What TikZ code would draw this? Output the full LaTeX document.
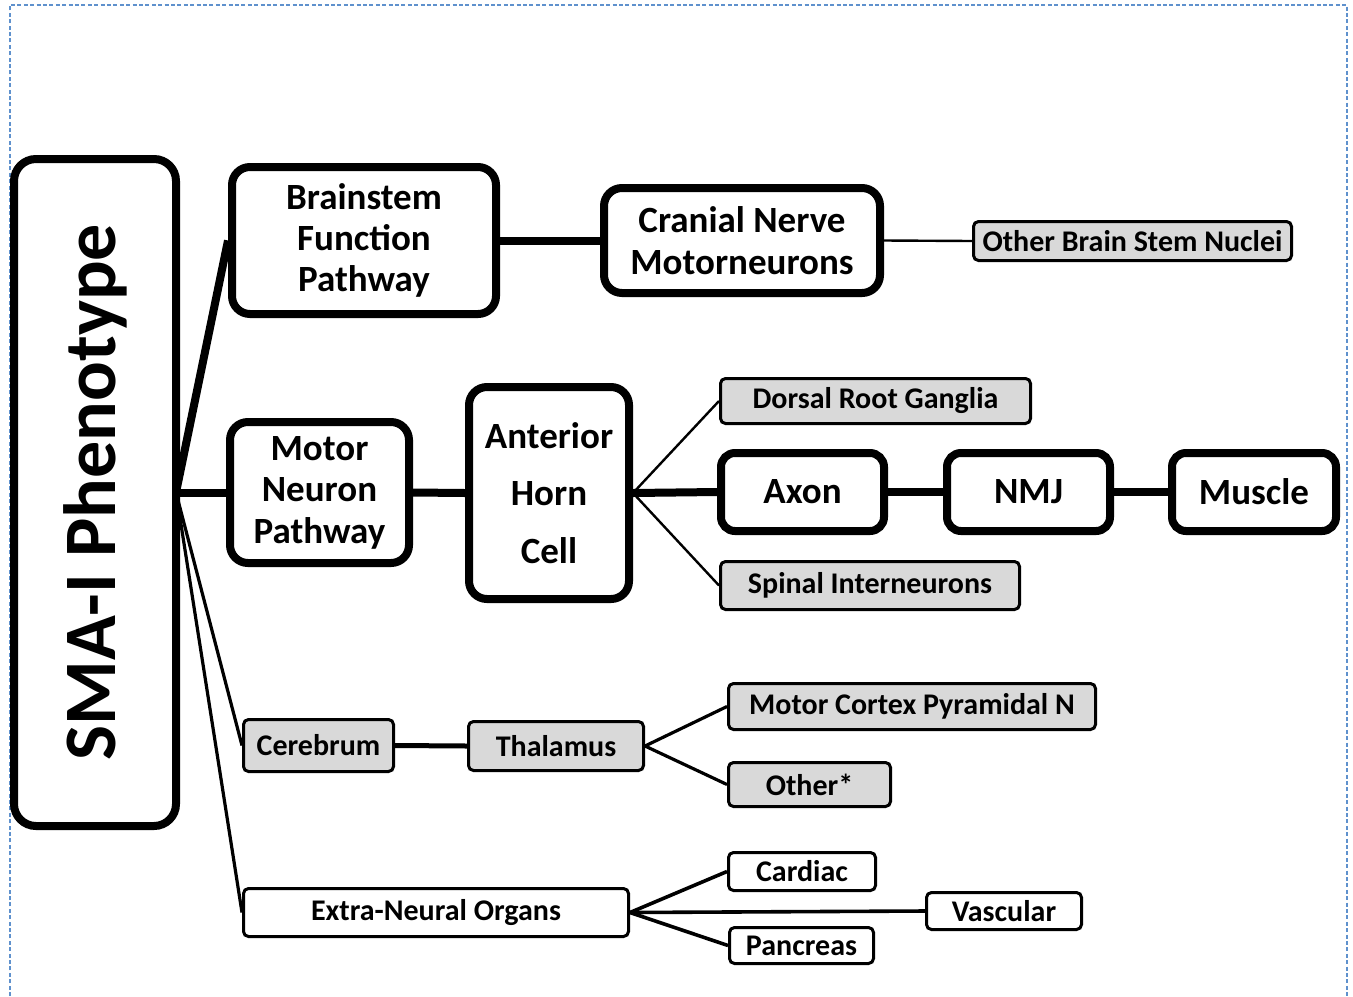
\documentclass[tikz,border=0pt]{standalone}
\usepackage{fontspec}
\setmainfont{Carlito}
\usetikzlibrary{positioning}
\pgfdeclarelayer{background}
\pgfsetlayers{background,main}
\definecolor{boxgray}{RGB}{217,217,217}
\definecolor{dashblue}{RGB}{95,145,205}
\tikzset{
  bigbox/.style={draw=black, line width=4pt, rounded corners=9pt, fill=white, inner sep=0pt, align=center,
    font=\fontsize{18.5}{20.5}\selectfont\bfseries},
  graybox/.style={draw=black, line width=1.5pt, rounded corners=2.5pt, fill=boxgray, inner sep=0pt, align=center,
    font=\fontsize{15}{17}\selectfont\bfseries},
  whitebox/.style={graybox, fill=white},
  thickline/.style={line width=4pt},
  thinline/.style={line width=1.2pt},
  midline/.style={line width=1.6pt},
}
\begin{document}
\begin{tikzpicture}[x=0.5pt,y=-0.5pt]
\useasboundingbox (0,0) rectangle (1353,996);
\draw[dashblue, line width=0.6pt, dash pattern=on 2pt off 1.2pt] (10,996) -- (10,5) -- (1347,5) -- (1347,996);

% main nodes
\node[bigbox, minimum width=81pt, minimum height=333.5pt, rounded corners=11pt] (sma) at (95,492.5) {};
\node[rotate=90, font=\fontsize{37}{40}\selectfont\bfseries] (smatext) at (95,492) {SMA-I Phenotype};

\node[bigbox, minimum width=132pt, minimum height=73.5pt] (brain) at (364,240.5) {Brainstem\\Function\\Pathway};
\node[bigbox, minimum width=138pt, minimum height=52.5pt, font=\fontsize{18.5}{21}\selectfont\bfseries] (cranial) at (742,240.5) {Cranial Nerve\\Motorneurons};
\node[graybox, minimum width=159pt, minimum height=19.5pt] (obsn) at (1132.5,241) {Other Brain Stem Nuclei};

\node[bigbox, minimum width=89.5pt, minimum height=70.5pt, font=\fontsize{18.5}{20.75}\selectfont\bfseries] (mnp) at (319.5,492.5) {Motor\\Neuron\\Pathway};
\node[bigbox, minimum width=80pt, minimum height=106pt, font=\fontsize{18.5}{28.75}\selectfont\bfseries] (ahc) at (549,493) {Anterior\\Horn\\Cell};
\node[graybox, minimum width=155pt, minimum height=22.5pt] (drg) at (875.5,401) {Dorsal Root Ganglia};
\node[graybox, minimum width=149.5pt, minimum height=24pt] (spin) at (870,585.5) {Spinal Interneurons};
\node[bigbox, minimum width=81.5pt, minimum height=39pt, rounded corners=7pt] (axon) at (802.5,492) {Axon};
\node[bigbox, minimum width=81.5pt, minimum height=39pt, rounded corners=7pt] (nmj) at (1028.5,492) {NMJ};
\node[bigbox, minimum width=82pt, minimum height=39pt, rounded corners=7pt] (muscle) at (1254,492) {Muscle};

\node[graybox, minimum width=75pt, minimum height=26pt] (cereb) at (318.5,745.5) {Cerebrum};
\node[graybox, minimum width=87.5pt, minimum height=24.5pt] (thal) at (556,746) {Thalamus};
\node[graybox, minimum width=183.5pt, minimum height=23pt] (mcpn) at (912,706.5) {Motor Cortex Pyramidal N};
\node[graybox, minimum width=81pt, minimum height=22pt] (other) at (809.5,784.5) {Other*};

\node[whitebox, minimum width=192.5pt, minimum height=24pt] (extra) at (436,912.5) {Extra-Neural Organs};
\node[whitebox, minimum width=73.5pt, minimum height=19pt] (card) at (802,871.5) {Cardiac};
\node[whitebox, minimum width=77.5pt, minimum height=18.5pt] (vasc) at (1004,911) {Vascular};
\node[whitebox, minimum width=72pt, minimum height=18pt] (panc) at (801.5,945.5) {Pancreas};

\begin{pgfonlayer}{background}
\coordinate (hub) at (176,492.5);
\draw[thickline] (hub) -- (brain.west);
\draw[thickline] (hub) -- (mnp.west);
\draw[midline] (hub) -- (cereb.west);
\draw[midline] (hub) -- (extra.west);
\draw[thickline] (brain.east) -- (cranial.west);
\draw[thinline] (cranial.east) -- (obsn.west);
\draw[thickline] (mnp.east) -- (ahc.west);
\draw[thickline] (ahc.east) -- (axon.west);
\draw[thinline] (ahc.east) -- (drg.west);
\draw[thinline] (ahc.east) -- (spin.west);
\draw[thickline] (axon.east) -- (nmj.west);
\draw[thickline] (nmj.east) -- (muscle.west);
\draw[line width=2.5pt] (cereb.east) -- (thal.west);
\draw[midline] (thal.east) -- (mcpn.west);
\draw[midline] (thal.east) -- (other.west);
\draw[line width=1.8pt] (extra.east) -- (card.west);
\draw[line width=1.8pt] (extra.east) -- (vasc.west);
\draw[line width=1.8pt] (extra.east) -- (panc.west);
\end{pgfonlayer}
\end{tikzpicture}
\end{document}
